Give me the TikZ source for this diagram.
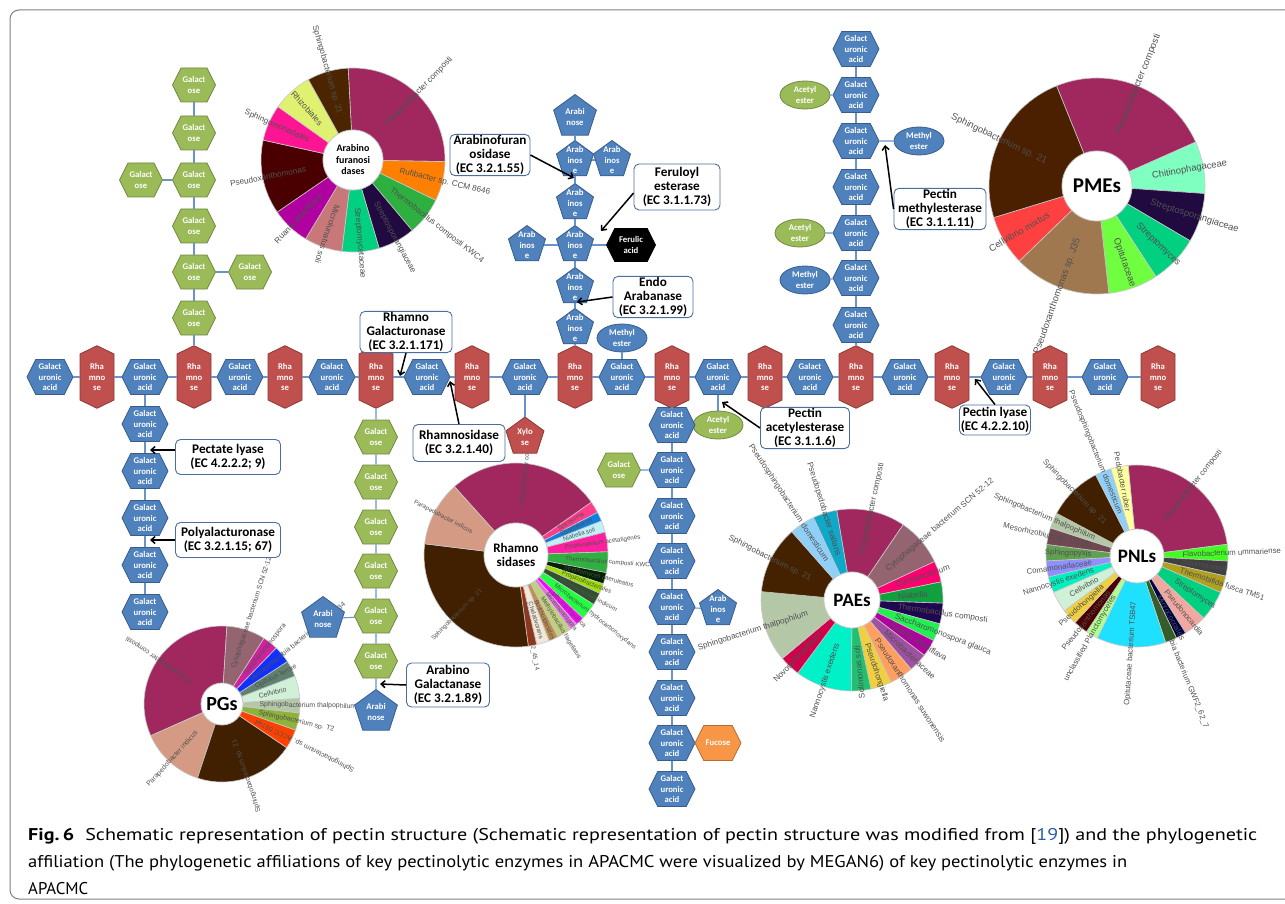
\documentclass[tikz,border=0pt]{standalone}
\usepackage{fontspec}
\usepackage{graphicx}
\usetikzlibrary{shapes.geometric,shapes.symbols,arrows.meta}
\newfontfamily\carl{Carlito}
\newfontfamily\ari{Liberation Sans}
\newfontfamily\capff{PT Sans}
\newcommand\hexf{\carl\bfseries\fontsize{8.7}{10.2}\selectfont}
\newcommand\boxf{\carl\bfseries\fontsize{13.2}{14}\selectfont}
\newcommand\lfArab{\ari\fontsize{8.2}{9}\selectfont}
\newcommand\lfPME{\ari\fontsize{9.4}{10}\selectfont}
\newcommand\lfPG{\ari\fontsize{6.9}{8}\selectfont}
\newcommand\lfRha{\ari\fontsize{6.2}{7}\selectfont}
\newcommand\lfPAE{\ari\fontsize{8.2}{9}\selectfont}
\newcommand\lfPNL{\ari\fontsize{7.8}{9}\selectfont}
\definecolor{bF}{HTML}{4F81BD}
\definecolor{bD}{HTML}{385D8A}
\definecolor{rF}{HTML}{C0504D}
\definecolor{rD}{HTML}{8C3836}
\definecolor{gF}{HTML}{9BBB59}
\definecolor{gD}{HTML}{71893F}
\definecolor{oF}{HTML}{F79646}
\definecolor{oD}{HTML}{B66D31}
\definecolor{eD}{HTML}{4A6E9E}
\definecolor{wl}{HTML}{C8C8C8}
\definecolor{lblc}{HTML}{505050}
\definecolor{frm}{HTML}{808080}
\definecolor{linkb}{HTML}{2A5DB0}
\definecolor{conn}{HTML}{6A93CB}
\tikzset{
  ht/.style={text=white, font=\hexf, align=center, inner sep=0pt},
  hexh/.style={signal, signal to=west and east, signal pointer angle=127, minimum width=46pt, minimum height=35pt, inner sep=0pt, line width=0.8pt},
  hexv/.style={signal, signal to=north and south, signal pointer angle=128, minimum width=34pt, minimum height=46pt, inner sep=0pt, line width=0.8pt},
  GA/.style={hexh, fill=bF, draw=bD, label={[ht]center:Galact\\uronic\\acid}},
  RH/.style={hexv, fill=rF, draw=rD, label={[ht]center:Rha\\mno\\se}},
  GO/.style={hexh, minimum width=43pt, minimum height=34pt, fill=gF, draw=gD, label={[ht]center:Galact\\ose}},
  FA/.style={hexh, minimum width=49pt, minimum height=33pt, fill=black, draw=black, label={[ht]center:Ferulic\\acid}},
  FU/.style={hexh, fill=oF, draw=oD, label={[ht]center:Fucose}},
  pent/.style={regular polygon, regular polygon sides=5, minimum size=39pt, inner sep=0pt, line width=0.8pt, fill=bF, draw=bD},
  AR/.style={pent, label={[ht]center:Arab\\inos\\e}},
  AN/.style={pent, minimum size=45pt, label={[ht]center:Arabi\\nose}},
  XY/.style={pent, minimum size=40pt, fill=rF, draw=rD, label={[ht]center:Xylo\\se}},
  ell/.style={ellipse, minimum width=50pt, minimum height=28pt, inner sep=0pt, line width=0.8pt},
  ME/.style={ell, fill=bF, draw=bD, label={[ht]center:Methyl\\ester}},
  AE/.style={ell, fill=gF, draw=gD, label={[ht]center:Acetyl\\ester}},
  enz/.style={draw=eD, fill=white, line width=0.9pt, rounded corners=5pt, font=\boxf, align=center, inner sep=1pt},
  arr/.style={line width=1.5pt, -{Straight Barb[length=4pt,width=7pt]}},
  cn/.style={draw=conn, line width=1.1pt},
  lbl/.style={text=lblc, inner sep=0.5pt},
  frame/.style={draw=frm, line width=1pt, rounded corners=9pt},
  ctr/.style={font=\carl\bfseries, align=center, inner sep=0pt}
}
% donut: #1 x, #2 y, #3 rin, #4 rout, #5 font, #6 id, #7 list a1/a2/hex/label/mode
\newcommand{\donut}[7]{%
  \foreach \a/\b/\c/\t/\m in {#7}{%
    \definecolor{wc}{HTML}{\c}%
    \fill[wc, draw=wl, line width=0.6pt] (#1,#2) -- ++(\a:#4pt) arc[start angle=\a, end angle=\b, radius=#4pt] -- cycle;
  }
  \fill[white, draw=wl, line width=0.8pt] (#1,#2) circle[radius=#3pt];
  \foreach \a/\b/\c/\t/\m [count=\i] in {#7}{%
    \pgfmathsetmacro\md{(\a+\b)/2}%
    \pgfmathsetmacro\rr{#3+0.28*(#4-#3)}%
    \ifnum\m=0
      \node[lbl, font=#5, anchor=west, rotate=\md] (#6-\i) at ([shift={(\md:\rr pt)}]#1,#2) {\t};
    \else
      \node[lbl, font=#5, anchor=east, rotate=\md+180] (#6-\i) at ([shift={(\md:\rr pt)}]#1,#2) {\t};
    \fi
  }
}
\begin{document}
\begin{tikzpicture}[x=1pt,y=1pt]
\useasboundingbox (0,0) rectangle (1285,-904);
\draw[frame] (10,-10) rectangle (1300,-899);

% ---------- donut charts ----------
\donut{353}{-160}{30}{92}{\lfArab}{pa}{
93/-1/A0285F/Parapedobacter composti/0,
-1/-26/FF8000/Rufibacter sp. CCM 8646/0,
-26/-50/2DB040/Thermobacillus composti KWC4/0,
-50/-73.5/200A40/Streptosporangiaceae/0,
-73.5/-97/00D080/Streptomycetaceae/0,
-97/-121/C87878/Microlunatus soli/0,
-121/-145.5/B000A0/Ruania albidiflava/1,
214.5/167.5/4A0000/Pseudoxanthomonas/1,
167.5/144.6/FF1493/Sphingomonadales/1,
144.6/119/E0F070/Rhizobiales/1,
119/93/4A2500/Sphingobacterium sp. 21/1}
\node[ctr, font=\carl\bfseries\fontsize{10}{11.5}\selectfont] (cArab) at (353,-160) {Arabino\\furanosi\\dases};

\donut{1097}{-186}{35}{108}{\lfPME}{pm}{
112/24/A0285F/Parapedobacter composti/0,
24/-4/7FFFC0/Chitinophagaceae/0,
-4/-30.5/200A40/Streptosporangiaceae/0,
-30.5/-57/00D080/Streptomyces/0,
-57/-83.7/70FF40/Opitutaceae/0,
-83.7/-136/A07850/Pseudoxanthomonas sp. J35/1,
-136/-163/FF4040/Cellvibrio mixtus/1,
197/112/4A2000/Sphingobacterium sp. 21/1}
\node[ctr, font=\carl\bfseries\fontsize{21}{24}\selectfont] (cPME) at (1097,-186) {PMEs};

\donut{222}{-704}{21}{78}{\lfPG}{pg}{
86.4/204/A0285F/Parapedobacter composti/0,
204/251.7/D49A84/Parapedobacter indicus/1,
251.7/326/402000/Sphingobacterium sp. 21/1,
326/340.5/FF4000/Sphingobacterium sp. ACCC 05744/1,
340.5/353.4/8DB33A/Sphingobacterium sp. T2/0,
353.4/364.4/B4C8A8/Sphingobacterium thalpophilum/0,
364.4/381/D0F0D8/Cellvibrio/0,
381/393/608070/Opitutus terrae/0,
393/406/1030FF/Verrucomicrobia bacterium IMCC26134/0,
406/417.5/D020A0/Saccharomonospora/0,
417.5/446.4/946470/Cytophagaceae bacterium SCN 52-12/0}
\node[ctr, font=\carl\bfseries\fontsize{20}{24}\selectfont] (cPG) at (222,-704) {PGs};

\donut{516}{-555}{32}{92}{\lfRha}{rh}{
132/35/A0285F/Parapedobacter composti/0,
35/27.6/FF3C8C/Spirosoma/0,
27.6/21.7/1080E0/Dyadobacter/0,
21.7/14.4/C0F0F8/Niabella soli/0,
14.4/2/FF20A0/Proteiniphilum acetatigenes/0,
2/-11.1/30B040/Thermobacillus composti KWC4/0,
-11.1/-18.3/002000/Streptomyces caeruleatus/0,
-18.3/-24.6/A0E000/Propionibacteriales/0,
-24.6/-32.6/305030/Microbacterium indicum/0,
-32.6/-43.3/20FF40/Microbacterium hydrocarbonoxydans/0,
-43.3/-48.9/FF00FF/Leifsonia aquatica/0,
-48.9/-53.8/E070E0/Micromonospora/0,
-53.8/-63/C0D080/Methylobacillus flagellatus/0,
-63/-69/C09050/Burkholderiales/0,
-69/-77/F0E8D8/Chelativorans/0,
-77/-82.3/A03010/bacterium GWF2\_45\_14/0,
277.7/173/402000/Sphingobacterium sp. 21/1,
173/132/D49A84/Parapedobacter indicus/1}
\node[ctr, font=\carl\bfseries\fontsize{13}{14.5}\selectfont] (cRha) at (516,-555) {Rhamno\\sidases};

\donut{852}{-600}{28}{91}{\lfPAE}{pe}{
99.7/55.8/A0285F/Parapedobacter composti/0,
55.8/25/946470/Cytophagaceae bacterium SCN 52-12/0,
25/11.5/FF0070/Cyclobacterium/0,
11.5/-2/10A040/Niabella/0,
-2/-15.2/200850/Thermobacillus composti/0,
-15.2/-26.4/20F050/Saccharomonospora glauca/0,
-26.4/-37.4/B000A0/Ruania albidiflava/0,
-37.4/-49.5/A050A0/Microbacteriaceae/0,
-49.5/-64.7/FFA060/Pseudoxanthomonas suwonensis/0,
-64.7/-78/F0D040/Pseudohongiella/0,
-78/-90.4/20C070/Solimonas soli/1,
-90.4/-126.6/00F0C8/Nannocystis exedens/1,
-126.6/-140/D0004A/Novosphingobium/1,
220/174.7/B4C8A8/Sphingobacterium thalpophilum/1,
174.7/131.4/442200/Sphingobacterium sp. 21/1,
131.4/115/90D0F8/Pseudosphingobacterium domesticum/1,
115/99.7/10A8C8/Pseudopedobacter saltans/1}
\node[ctr, font=\carl\bfseries\fontsize{19}{22}\selectfont] (cPAE) at (852,-600) {PAEs};

\donut{1137}{-556}{27}{91}{\lfPNL}{pn}{
95.6/7.4/A0285F/Parapedobacter composti/0,
7.4/-3.2/40FF20/Flavobacterium ummariense/0,
-3.2/-12.8/404040/Nonomuraea/0,
-12.8/-23.6/B0A020/Thermobifida fusca TM51/0,
-23.6/-43/00D080/Streptomyces/0,
-43/-57.7/F0A8A0/Pseudonocardia/0,
-57.7/-64.3/000040/Micrococcales/0,
-64.3/-71.7/306020/Verrucomicrobia bacterium GWF2\_62\_7/0,
-71.7/-115.8/20E0FF/Opitutaceae bacterium TSB47/1,
-115.8/-123.7/B0FF90/unclassified Planctomycetes/1,
-123.7/-133/4A0000/Pseudoxanthomonas/1,
-133/-143/F0D040/Pseudohongiella/1,
-143/-156.5/D0F0D8/Cellvibrio/1,
-156.5/-166.7/00F0C0/Nannocystis exedens/1,
193.3/183.1/9090FF/Comamonadaceae/1,
183.1/172.7/60A050/Sphingopyxis/1,
172.7/162/704850/Mesorhizobium sp. LC103/1,
162/152/B4C8A8/Sphingobacterium thalpophilum/1,
152/117/402000/Sphingobacterium sp. 21/1,
117/106.7/90D0F8/Pseudosphingobacterium domesticum/1,
106.7/95.6/FFFFA0/Pedobacter ruber/1}
\node[ctr, font=\carl\bfseries\fontsize{19}{22}\selectfont] (cPNL) at (1137,-556) {PNLs};

% ---------- main chain ----------
\foreach \x [count=\i] in {50,97,145,194,240,285,332,376,427,472,525,575,622,672,718,765,810,856,905,952,1004,1050,1105,1158} {
  \ifodd\i \node[GA] (m\i) at (\x,-377) {}; \else \node[RH] (m\i) at (\x,-377) {}; \fi
}
\foreach \i [evaluate=\i as \j using int(\i+1)] in {1,...,23} { \draw[cn] (m\i) -- (m\j); }

% left column (GalA) below m3
\foreach \y [count=\i] in {424,471,518,565,612} { \node[GA] (lc\i) at (145,-\y) {}; }
\draw[cn] (m3) -- (lc1) (lc1) -- (lc2) (lc2) -- (lc3) (lc3) -- (lc4) (lc4) -- (lc5);

% top column (galactose) above m4
\foreach \y [count=\i] in {318,272,226,180,133,85} { \node[GO] (tc\i) at (194,-\y) {}; }
\node[GO] (ts1) at (141,-180) {};
\node[GO] (ts2) at (250,-272) {};
\draw[cn] (m4) -- (tc1) (tc1) -- (tc2) (tc2) -- (tc3) (tc3) -- (tc4) (tc4) -- (tc5) (tc5) -- (tc6) (tc4) -- (ts1) (tc2) -- (ts2);

% galactan column below m8
\foreach \y [count=\i] in {437,482,527,571,616,661} { \node[GO] (bc\i) at (376,-\y) {}; }
\node[AN] (ba1) at (323,-619) {};
\node[AN] (ba2) at (376,-712) {};
\draw[cn] (m8) -- (bc1) (bc1) -- (bc2) (bc2) -- (bc3) (bc3) -- (bc4) (bc4) -- (bc5) (bc5) -- (bc6) (bc6) -- (ba2) (bc5) -- (ba1);

% arabinan column above m12
\foreach \y [count=\i] in {328,287,245,203,160} { \node[AR] (ac\i) at (575,-\y) {}; }
\node[AN] (ac6) at (575,-117) {};
\node[AR] (as1) at (612,-160) {};
\node[AR] (as2) at (527,-245) {};
\node[FA] (fer) at (631,-245) {};
\draw[cn] (m12) -- (ac1) (ac1) -- (ac2) (ac2) -- (ac3) (ac3) -- (ac4) (ac4) -- (ac5) (ac5) -- (ac6) (ac5) -- (as1) (ac3) -- (as2) (ac3) -- (fer);

% side groups on main chain
\node[ME] (me1) at (622,-338) {};
\node[XY] (xy) at (525,-437) {};
\node[AE] (ae1) at (718,-425) {};
\draw[cn] (m13) -- (me1) (m11) -- (xy) (m15) -- (ae1);

% column below m14
\foreach \y [count=\i] in {425,470,516,561,607,652,698,743,789} { \node[GA] (dc\i) at (672,-\y) {}; }
\node[GO] (dgo) at (619,-470) {};
\node[AR] (dar) at (718,-609) {};
\node[FU] (fuc) at (718,-743) {};
\draw[cn] (m14) -- (dc1) (dc1) -- (dc2) (dc2) -- (dc3) (dc3) -- (dc4) (dc4) -- (dc5) (dc5) -- (dc6) (dc6) -- (dc7) (dc7) -- (dc8) (dc8) -- (dc9);
\draw[cn] (dc2) -- (dgo) (dc5) -- (dar) (dc8) -- (fuc);

% column above m18
\foreach \y [count=\i] in {325,278,233,187,141,95,49} { \node[GA] (uc\i) at (856,-\y) {}; }
\node[AE] (ae2) at (805,-95) {};
\node[ME] (me2) at (919,-141) {};
\node[AE] (ae3) at (800,-233) {};
\node[ME] (me3) at (805,-280) {};
\draw[cn] (m18) -- (uc1) (uc1) -- (uc2) (uc2) -- (uc3) (uc3) -- (uc4) (uc4) -- (uc5) (uc5) -- (uc6) (uc6) -- (uc7);
\draw[cn] (uc6) -- (ae2) (uc5) -- (me2) (uc3) -- (ae3) (uc2) -- (me3);

% ---------- enzyme boxes ----------
\node[enz, minimum width=80pt, minimum height=41pt] (eaf) at (490,-155) {Arabinofuran\\osidase\\(EC 3.2.1.55)};
\node[enz, minimum width=86pt, minimum height=46pt] (efe) at (677,-187) {Feruloyl\\esterase\\(EC 3.1.1.73)};
\node[enz, minimum width=80pt, minimum height=41pt] (een) at (653,-297) {Endo\\Arabanase\\(EC 3.2.1.99)};
\node[enz, minimum width=92pt, minimum height=40pt] (erg) at (406,-332) {Rhamno\\Galacturonase\\(EC 3.2.1.171)};
\node[enz, minimum width=92pt, minimum height=37pt] (ers) at (459,-443) {Rhamnosidase\\(EC 3.2.1.40)};
\node[enz, minimum width=105pt, minimum height=35pt] (epc) at (228,-457) {Pectate lyase\\(EC 4.2.2.2; 9)};
\node[enz, minimum width=105pt, minimum height=35pt] (epg) at (228,-540) {Polyalacturonase\\(EC 3.2.1.15; 67)};
\node[enz, minimum width=83pt, minimum height=44pt] (eag) at (448,-685) {Arabino\\Galactanase\\(EC 3.2.1.89)};
\node[enz, minimum width=89pt, minimum height=41pt] (epa) at (805,-428) {Pectin\\acetylesterase\\(EC 3.1.1.6)};
\node[enz, minimum width=92pt, minimum height=39pt] (epm) at (940,-209) {Pectin\\methylesterase\\(EC 3.1.1.11)};
\node[enz, minimum width=71pt, minimum height=30pt] (epl) at (995,-420) {Pectin lyase\\(EC 4.2.2.10)};

% arrow targets
\coordinate (taf) at (574,-178);
\coordinate (tfe) at (601,-231);
\coordinate (ten) at (577,-302);
\coordinate (trg) at (400,-376);
\coordinate (trs) at (450,-381);
\coordinate (tpc) at (150,-450);
\coordinate (tpg) at (150,-540);
\coordinate (tag) at (380,-684);
\coordinate (tpa) at (722,-402);
\coordinate (tpm) at (885,-145);
\coordinate (tpl) at (975,-379);

\draw[arr] (eaf.east) -- (taf);
\draw[arr] ([yshift=-6pt]efe.west) -- (tfe);
\draw[arr] (een.west) -- (ten);
\draw[arr] (erg.south) -- (trg);
\draw[arr] (ers.north) -- (trs);
\draw[arr] ([yshift=7pt]epc.west) -- (tpc);
\draw[arr] (epg.west) -- (tpg);
\draw[arr] (eag.west) -- (tag);
\draw[arr] (epa.west) -- (tpa);
\draw[arr] (epm.west) -- (tpm);
\draw[arr] (epl.north) -- (tpl);

% ---------- caption ----------
\node[anchor=base west, inner sep=0pt] (cap1) at (28,-840) {\resizebox{1229pt}{\height}{\capff\fontsize{17}{20}\selectfont\textbf{Fig.\,6}\hspace{0.55em}Schematic representation of pectin structure (Schematic representation of pectin structure was modified from [\textcolor{linkb}{19}]) and the phylogenetic}};
\node[anchor=base west, inner sep=0pt] (cap2) at (28,-867) {\resizebox{1099pt}{\height}{\capff\fontsize{17}{20}\selectfont affiliation (The phylogenetic affiliations of key pectinolytic enzymes in APACMC were visualized by MEGAN6) of key pectinolytic enzymes in}};
\node[anchor=base west, inner sep=0pt] (cap3) at (28,-894) {\resizebox{60pt}{\height}{\capff\fontsize{17}{20}\selectfont APACMC}};
\end{tikzpicture}
\end{document}
